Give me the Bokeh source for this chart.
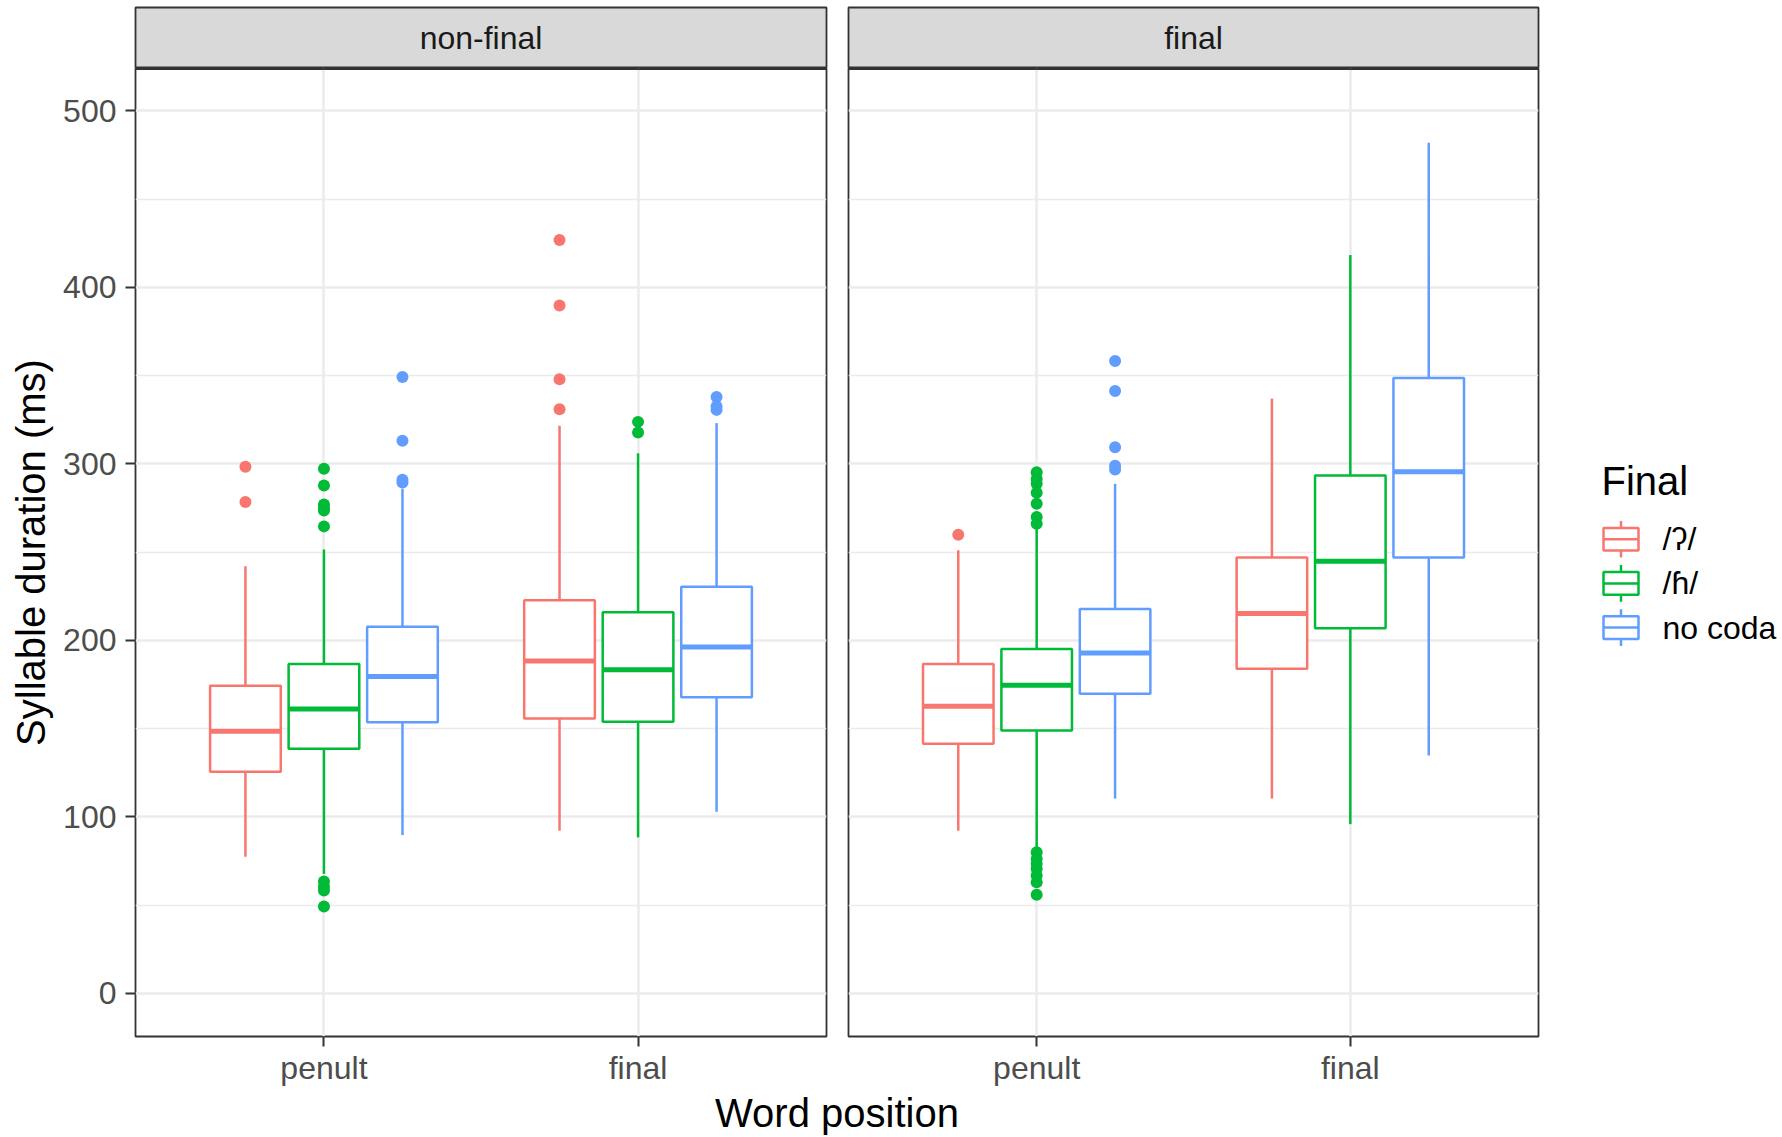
import numpy as np
from bokeh.plotting import figure
from bokeh.layouts import row, column
from bokeh.models import Range1d, FixedTicker, ColumnDataSource, Span
from bokeh.embed import file_html
from bokeh.resources import INLINE
from bokeh.core.properties import value

# ---------------- data ----------------
PANELS = ["non-final", "final"]
POSITIONS = ["penult", "final"]
CODAS = ["/ʔ/", "/ɦ/", "no coda"]
COLORS = ["#F8766D", "#00BA38", "#619CFF"]

# 12 groups: panel x position x coda
GROUP_PANEL = ["non-final"] * 6 + ["final"] * 6
GROUP_POSITION = (["penult"] * 3 + ["final"] * 3) * 2
GROUP_CODA = CODAS * 4

LOWER_WHISKER = [77.5, 67.7, 89.7, 92.2, 88.4, 102.9,
                 92.2, 81.8, 110.4, 110.4, 95.9, 134.8]
Q1 = [125.6, 138.6, 153.7, 155.7, 153.9, 167.8,
      141.4, 149.0, 169.8, 183.9, 206.9, 246.9]
MEDIAN = [148.6, 161.2, 179.6, 188.4, 183.4, 196.2,
          162.7, 174.6, 192.8, 215.3, 244.9, 295.6]
Q3 = [174.3, 186.6, 207.8, 222.7, 215.9, 230.4,
      186.6, 195.2, 217.8, 246.9, 293.4, 348.7]
UPPER_WHISKER = [242.0, 251.5, 285.9, 321.6, 306.0, 323.1,
                 251.1, 264.0, 288.7, 337.0, 418.3, 482.0]
OUTLIERS = [
    [298.4, 278.4],
    [297.2, 287.7, 277.0, 275.0, 273.6, 264.6, 63.4, 60.5, 58.3, 49.3],
    [349.2, 313.1, 291.0, 289.5],
    [426.9, 389.7, 347.9, 331.0],
    [323.8, 317.8],
    [337.9, 332.5, 330.6],
    [259.9],
    [295.3, 291.5, 288.7, 283.6, 277.4, 269.9, 266.1,
     80.0, 76.2, 73.4, 70.6, 66.8, 63.0, 55.9],
    [358.3, 341.3, 309.4, 299.0, 296.8],
    [],
    [],
    [],
]

Y_TICKS = [0, 100, 200, 300, 400, 500]
Y_MINOR = [50, 150, 250, 350, 450]

# ---------------- styling / geometry ----------------
FONT = "Liberation Sans"
Y_LO, Y_HI = -24.4, 524.0
X_LO, X_HI = 0.4, 2.6
DODGE = 0.25
HALF_W = 0.1125
BOX_LW = 2.5
MED_LW = 5

LEFT_BORDER = 135
GAP = 20
P1_FRAME, P2_FRAME = 691, 690
STRIP_TOP = 7
STRIP_FRAME = 61
PANEL_FRAME = 970
BOTTOM_BORDER = 50
LEGEND_W = 242
TITLE_H = 49


def group_x(i):
    return POSITIONS.index(GROUP_POSITION[i]) + 1 + (CODAS.index(GROUP_CODA[i]) - 1) * DODGE


def fig_width(first):
    return (LEFT_BORDER if first else GAP) + (P1_FRAME if first else P2_FRAME) + 2


def make_strip(idx):
    first = idx == 0
    s = figure(width=fig_width(first), height=STRIP_TOP + STRIP_FRAME,
               x_range=Range1d(0, 1), y_range=Range1d(0, 1), title=None,
               min_border_left=LEFT_BORDER if first else GAP, min_border_right=2,
               min_border_top=STRIP_TOP, min_border_bottom=0,
               x_axis_location=None, y_axis_location=None,
               toolbar_location=None, output_backend="svg")
    s.grid.visible = False
    s.background_fill_color = "#D9D9D9"
    s.border_fill_color = "white"
    s.outline_line_color = "#333333"
    s.outline_line_width = 1.8
    s.text(x=[0.5], y=[0.5], text=[PANELS[idx]], text_align="center",
           text_baseline="middle", text_font=value(FONT), text_font_size="32px",
           text_color="#1A1A1A")
    return s


def make_panel(idx):
    first = idx == 0
    panel = PANELS[idx]
    p = figure(width=fig_width(first), height=PANEL_FRAME + BOTTOM_BORDER,
               x_range=Range1d(X_LO, X_HI), y_range=Range1d(Y_LO, Y_HI), title=None,
               min_border_left=LEFT_BORDER if first else GAP, min_border_right=2,
               min_border_top=0, min_border_bottom=BOTTOM_BORDER,
               y_axis_location="left" if first else None,
               toolbar_location=None, output_backend="svg")
    p.background_fill_color = "white"
    p.border_fill_color = "white"
    p.outline_line_color = "#333333"
    p.outline_line_width = 1.8

    # grids
    p.ygrid.ticker = FixedTicker(ticks=Y_TICKS, minor_ticks=Y_MINOR)
    p.ygrid.grid_line_color = "#EBEBEB"
    p.ygrid.grid_line_width = 2.5
    p.ygrid.minor_grid_line_color = "#EBEBEB"
    p.ygrid.minor_grid_line_width = 1.3
    p.xgrid.ticker = FixedTicker(ticks=[1, 2])
    p.xgrid.grid_line_color = "#EBEBEB"
    p.xgrid.grid_line_width = 2.5

    # axes
    p.xaxis.ticker = FixedTicker(ticks=[1, 2])
    p.xaxis.major_label_overrides = {1: POSITIONS[0], 2: POSITIONS[1]}
    axes = [p.xaxis[0]] + ([p.yaxis[0]] if first else [])
    for ax in axes:
        ax.axis_line_color = None
        ax.major_tick_line_color = "#333333"
        ax.major_tick_line_width = 2
        ax.major_tick_out = 10
        ax.major_tick_in = 0
        ax.minor_tick_line_color = None
        ax.major_label_text_font = FONT
        ax.major_label_text_font_size = "32px"
        ax.major_label_text_color = "#4D4D4D"
    p.xaxis.major_label_standoff = 3
    if first:
        p.yaxis.ticker = FixedTicker(ticks=Y_TICKS)
        p.yaxis.major_label_standoff = 9
        p.yaxis.axis_label = "Syllable duration (ms)"
        p.yaxis.axis_label_text_font = FONT
        p.yaxis.axis_label_text_font_size = "40px"
        p.yaxis.axis_label_text_font_style = "normal"
        p.yaxis.axis_label_text_color = "black"
        p.yaxis.axis_label_standoff = 7

    idxs = [i for i in range(len(GROUP_PANEL)) if GROUP_PANEL[i] == panel]
    xs = np.array([group_x(i) for i in idxs])
    cols = [COLORS[CODAS.index(GROUP_CODA[i])] for i in idxs]
    src = ColumnDataSource(dict(
        x=xs, left=xs - HALF_W, right=xs + HALF_W,
        lw=[LOWER_WHISKER[i] for i in idxs], q1=[Q1[i] for i in idxs],
        med=[MEDIAN[i] for i in idxs], q3=[Q3[i] for i in idxs],
        uw=[UPPER_WHISKER[i] for i in idxs], color=cols))

    p.segment(x0="x", y0="q3", x1="x", y1="uw", source=src, line_color="color", line_width=BOX_LW)
    p.segment(x0="x", y0="lw", x1="x", y1="q1", source=src, line_color="color", line_width=BOX_LW)
    p.quad(left="left", right="right", bottom="q1", top="q3", source=src,
           fill_color="white", line_color="color", line_width=BOX_LW)
    p.segment(x0="left", y0="med", x1="right", y1="med", source=src,
              line_color="color", line_width=MED_LW)

    ox, oy, oc = [], [], []
    for i in idxs:
        for v in OUTLIERS[i]:
            ox.append(group_x(i))
            oy.append(v)
            oc.append(COLORS[CODAS.index(GROUP_CODA[i])])
    p.scatter(x=ox, y=oy, marker="circle", size=12, fill_color=oc, line_color=None)

    p.add_layout(Span(location=Y_HI, dimension="width", line_color="#333333", line_width=3))
    return p


strips = [make_strip(0), make_strip(1)]
panels = [make_panel(0), make_panel(1)]

# ---------------- legend ----------------
leg_h = STRIP_TOP + STRIP_FRAME + PANEL_FRAME + BOTTOM_BORDER
leg = figure(width=LEGEND_W, height=leg_h, x_range=Range1d(0, LEGEND_W), y_range=Range1d(leg_h, 0),
             title=None, min_border=0, x_axis_location=None, y_axis_location=None,
             toolbar_location=None, output_backend="svg")
leg.grid.visible = False
leg.outline_line_color = None
leg.background_fill_color = "white"
leg.border_fill_color = "white"
leg.text(x=[61], y=[480], text=["Final"], text_font=value(FONT), text_font_size="40px",
         text_color="black", text_baseline="middle", text_align="left")
key_y = np.array([538.7 + 44.2 * k for k in range(len(CODAS))])
kx0, kx1 = 63, 98
kxc = (kx0 + kx1) / 2
leg.segment(x0=[kxc] * 3, y0=key_y - 18.3, x1=[kxc] * 3, y1=key_y + 18.3,
            line_color=COLORS, line_width=BOX_LW)
leg.quad(left=[kx0] * 3, right=[kx1] * 3, top=key_y - 11.3, bottom=key_y + 11.3,
         fill_color="white", line_color=COLORS, line_width=BOX_LW)
leg.segment(x0=[kx0] * 3, y0=key_y, x1=[kx1] * 3, y1=key_y, line_color=COLORS, line_width=BOX_LW)
leg.text(x=[122] * 3, y=key_y, text=CODAS, text_font=value(FONT), text_font_size="32px",
         text_color="black", text_baseline="middle", text_align="left")

# ---------------- x-axis title ----------------
total_w = fig_width(True) + fig_width(False) + LEGEND_W
tf = figure(width=total_w, height=TITLE_H,
            x_range=Range1d(0, 1), y_range=Range1d(0, TITLE_H), title=None,
            min_border_left=LEFT_BORDER, min_border_right=2 + LEGEND_W,
            min_border_top=0, min_border_bottom=0,
            x_axis_location=None, y_axis_location=None,
            toolbar_location=None, output_backend="svg")
tf.grid.visible = False
tf.outline_line_color = None
tf.background_fill_color = "white"
tf.border_fill_color = "white"
tf.text(x=[0.5], y=[TITLE_H / 2], text=["Word position"], text_font=value(FONT),
        text_font_size="40px", text_color="black", text_baseline="middle", text_align="center")

layout = column(row(column(strips[0], panels[0]), column(strips[1], panels[1]), leg), tf)

open("out.html", "w").write(file_html(layout, INLINE))
